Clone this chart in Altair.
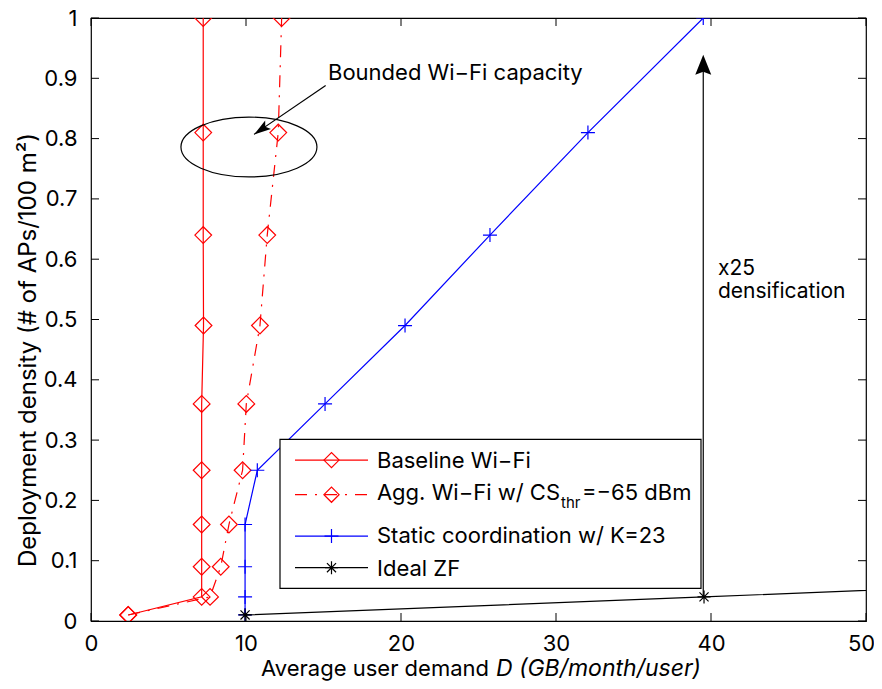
import altair as alt
import pandas as pd

# ---------------- data ----------------
density = [0.01, 0.04, 0.09, 0.16, 0.25, 0.36, 0.49, 0.64, 0.81, 1.0]
baseline_demand = [2.4, 7.14, 7.14, 7.14, 7.14, 7.14, 7.26, 7.24, 7.24, 7.24]
agg_demand = [2.4, 7.68, 8.37, 8.9, 9.78, 10.02, 10.9, 11.37, 12.08, 12.3]
static_demand = [9.94, 9.94, 9.94, 9.94, 10.73, 15.1, 20.26, 25.74, 32.06, 39.5]
static_density = [0.01, 0.04, 0.09, 0.16, 0.25, 0.36, 0.49, 0.64, 0.81, 1.0]
zf_demand = [9.94, 39.55, 88.4]
zf_density = [0.01, 0.04, 0.09]

legend_labels = ["Baseline Wi\u2212Fi", "Agg. Wi\u2212Fi w/ CS", "Static coordination w/ K=23", "Ideal ZF"]
legend_sub = "thr"
legend_tail = "=\u221265 dBm"
x_ticks = [0, 10, 20, 30, 40, 50]
y_ticks = [0.0, 0.1, 0.2, 0.3, 0.4, 0.5, 0.6, 0.7, 0.8, 0.9, 1.0]

x_title_plain = "Average user demand"
x_title_italic = "D (GB/month/user)"
y_title = "Deployment density (# of APs/100 m\u00b2)"
note_bounded = "Bounded Wi\u2212Fi capacity"
note_x25 = ["x25", "densification"]

# annotation anchors (data coordinates)
ellipse_center = [10.19, 0.786]
arrow1 = [15.14, 0.888, 10.52, 0.807]
arrow2 = [39.5, 0.04, 39.5, 0.939]

# ---------------- layout ----------------
W, H = 775, 603
TOP = 10
FONT = "Inter"
FS = 22
RED, BLUE, BLACK = "#ff0000", "#0000ff", "#000000"
LW = 1.2


def py(p):
    """vertical pixel position inside the plot, from a reference page position"""
    return round((p - 15) * H / 611, 1)


xscale = alt.Scale(domain=[0, 50], nice=False, zero=False)
yscale = alt.Scale(domain=[0, 1], nice=False, zero=False)
xaxis = alt.Axis(values=x_ticks, title=None, grid=False, domain=False, ticks=False, tickSize=0,
                 labelFont=FONT, labelFontSize=FS, labelColor=BLACK, labelPadding=12,
                 labelFlush=False, labelOverlap=False,
                 labelOffset={"condition": {"test": "datum.value == 50", "value": -5}, "value": 0})
yaxis = alt.Axis(values=y_ticks, title=None, grid=False, domain=False, ticks=False, tickSize=0,
                 labelFont=FONT, labelFontSize=FS, labelColor=BLACK, labelPadding=14,
                 labelFlush=False, labelOverlap=False, format=".1~f")
X = alt.X("x:Q", scale=xscale, axis=xaxis)
Y = alt.Y("y:Q", scale=yscale, axis=yaxis)

PLUS = "M-1,0L1,0M0,-1L0,1"
STAR = "M-1,0L1,0M0,-1L0,1M-0.7,-0.7L0.7,0.7M-0.7,0.7L0.7,-0.7"
ELLIPSE = ("M-1,0A1,0.44,0,0,1,0,-0.44A1,0.44,0,0,1,1,0"
           "A1,0.44,0,0,1,0,0.44A1,0.44,0,0,1,-1,0Z")
HEAD1 = "M0,0L0.6,2L0,1.6L-0.6,2Z"
HEAD2 = "M0,0L0.8,2L0,1.7L-0.8,2Z"

one = pd.DataFrame({"a": [0]})


def series(xs, ys, color, shape, size, dash=None):
    df = pd.DataFrame({"x": xs, "y": ys, "i": list(range(len(xs)))})
    lk = dict(color=color, strokeWidth=LW, clip=True)
    if dash:
        lk["strokeDash"] = dash
    line = alt.Chart(df).mark_line(**lk).encode(x=X, y=Y, order=alt.Order("i:Q"))
    pts = alt.Chart(df).mark_point(shape=shape, size=size, filled=False, color=color,
                                   strokeWidth=LW, opacity=1, clip=True).encode(x=X, y=Y)
    return [line, pts]


DASHDOT = [12, 8, 2, 8]
layers = []
layers += series(baseline_demand, density, RED, "diamond", 280)
layers += series(agg_demand, density, RED, "diamond", 280, DASHDOT)
layers += series(static_demand, static_density, BLUE, PLUS, 196)
layers += series(zf_demand, zf_density, BLACK, STAR, 169)

# inside ticks (MATLAB style, all four sides)
xt = pd.DataFrame({"x": x_ticks})
yt = pd.DataFrame({"y": y_ticks})
layers.append(alt.Chart(xt).mark_rule(color=BLACK, strokeWidth=1).encode(x=X, y=alt.value(H), y2=alt.value(H - 8)))
layers.append(alt.Chart(xt).mark_rule(color=BLACK, strokeWidth=1).encode(x=X, y=alt.value(0), y2=alt.value(8)))
layers.append(alt.Chart(yt).mark_rule(color=BLACK, strokeWidth=1).encode(y=Y, x=alt.value(0), x2=alt.value(8)))
layers.append(alt.Chart(yt).mark_rule(color=BLACK, strokeWidth=1).encode(y=Y, x=alt.value(W - 8), x2=alt.value(W)))

# ellipse annotation
ell = pd.DataFrame({"x": [ellipse_center[0]], "y": [ellipse_center[1]]})
layers.append(alt.Chart(ell).mark_point(shape=ELLIPSE, size=136 * 136, filled=False, color=BLACK,
                                        strokeWidth=LW, opacity=1).encode(x=X, y=Y))

# arrows
a1 = pd.DataFrame({"x": [arrow1[0]], "y": [arrow1[1]], "x2": [arrow1[2]], "y2": [arrow1[3]]})
layers.append(alt.Chart(a1).mark_rule(color=BLACK, strokeWidth=LW).encode(
    x=X, y=Y, x2="x2:Q", y2="y2:Q"))
h1 = pd.DataFrame({"x": [arrow1[2]], "y": [arrow1[3]]})
layers.append(alt.Chart(h1).mark_point(shape=HEAD1, size=289, filled=True, color=BLACK, opacity=1,
                                       angle=235.5).encode(x=X, y=Y))
a2 = pd.DataFrame({"x": [arrow2[0]], "y": [arrow2[1]], "x2": [arrow2[2]], "y2": [arrow2[3] - 0.02]})
layers.append(alt.Chart(a2).mark_rule(color=BLACK, strokeWidth=LW).encode(
    x=X, y=Y, x2="x2:Q", y2="y2:Q"))
h2 = pd.DataFrame({"x": [arrow2[2]], "y": [arrow2[3]]})
layers.append(alt.Chart(h2).mark_point(shape=HEAD2, size=400, filled=True, color=BLACK, opacity=1,
                                       angle=0).encode(x=X, y=Y))

# annotation texts
t1 = pd.DataFrame({"x": [15.29], "y": [0.897], "t": [note_bounded]})
layers.append(alt.Chart(t1).mark_text(align="left", baseline="alphabetic", font=FONT, fontSize=FS,
                                      color=BLACK).encode(x=X, y=Y, text="t:N"))
t2 = pd.DataFrame({"x": [40.45, 40.45], "y": [0.573, 0.535], "t": note_x25})
layers.append(alt.Chart(t2).mark_text(align="left", baseline="alphabetic", font=FONT, fontSize=21,
                                      color=BLACK).encode(x=X, y=Y, text="t:N"))

# legend (drawn by hand so that the subscript can be rendered)
layers.append(alt.Chart(one).mark_rect(fill="white", stroke=BLACK, strokeWidth=LW).encode(
    x=alt.value(189), x2=alt.value(610), y=alt.value(py(442)), y2=alt.value(py(593))))
row_line_y = [py(463), py(498), py(540), py(572)]
row_text_y = [py(471), py(503), py(547), py(580)]
row_colors = [RED, RED, BLUE, BLACK]
row_dash = [None, DASHDOT, None, None]
row_shape = ["diamond", "diamond", PLUS, STAR]
row_size = [230, 230, 196, 169]
for k in range(4):
    rk = dict(color=row_colors[k], strokeWidth=LW)
    if row_dash[k]:
        rk["strokeDash"] = row_dash[k]
    layers.append(alt.Chart(one).mark_rule(**rk).encode(
        x=alt.value(204), x2=alt.value(277), y=alt.value(row_line_y[k])))
    layers.append(alt.Chart(one).mark_point(shape=row_shape[k], size=row_size[k], filled=False,
                                            color=row_colors[k], strokeWidth=LW, opacity=1).encode(
        x=alt.value(240.5), y=alt.value(row_line_y[k])))
    if k == 1:
        layers.append(alt.Chart(one).mark_text(align="right", baseline="alphabetic", font=FONT,
                                               fontSize=FS, color=BLACK).encode(
            x=alt.value(469), y=alt.value(row_text_y[k]), text=alt.value(legend_labels[k])))
        layers.append(alt.Chart(one).mark_text(align="left", baseline="alphabetic", font=FONT,
                                               fontSize=15, color=BLACK).encode(
            x=alt.value(470), y=alt.value(row_text_y[k] + 8), text=alt.value(legend_sub)))
        layers.append(alt.Chart(one).mark_text(align="left", baseline="alphabetic", font=FONT,
                                               fontSize=FS, color=BLACK).encode(
            x=alt.value(491), y=alt.value(row_text_y[k]), text=alt.value(legend_tail)))
    else:
        layers.append(alt.Chart(one).mark_text(align="left", baseline="alphabetic", font=FONT,
                                               fontSize=FS, color=BLACK).encode(
            x=alt.value(286), y=alt.value(row_text_y[k]), text=alt.value(legend_labels[k])))

# axis titles
layers.append(alt.Chart(one).mark_text(align="right", baseline="alphabetic", font=FONT, fontSize=FS,
                                       color=BLACK).encode(
    x=alt.value(398), y=alt.value(H + 55), text=alt.value(x_title_plain)))
layers.append(alt.Chart(one).mark_text(align="left", baseline="alphabetic", font=FONT, fontSize=23,
                                       fontStyle="italic", color=BLACK).encode(
    x=alt.value(405), y=alt.value(H + 55), text=alt.value(x_title_italic)))
layers.append(alt.Chart(one).mark_text(align="center", baseline="middle", font=FONT, fontSize=24,
                                       angle=270, color=BLACK).encode(
    x=alt.value(-62), y=alt.value(332), text=alt.value(y_title)))

chart = alt.layer(*layers).properties(
    width=W, height=H,
    padding={"left": 83, "top": TOP, "right": 8, "bottom": 673 - TOP - H},
    autosize=alt.AutoSizeParams(type="none"),
    background="white",
).configure_view(stroke=BLACK, strokeWidth=1.2)

chart.save("out.html", embed_options={"renderer": "svg", "actions": False})
